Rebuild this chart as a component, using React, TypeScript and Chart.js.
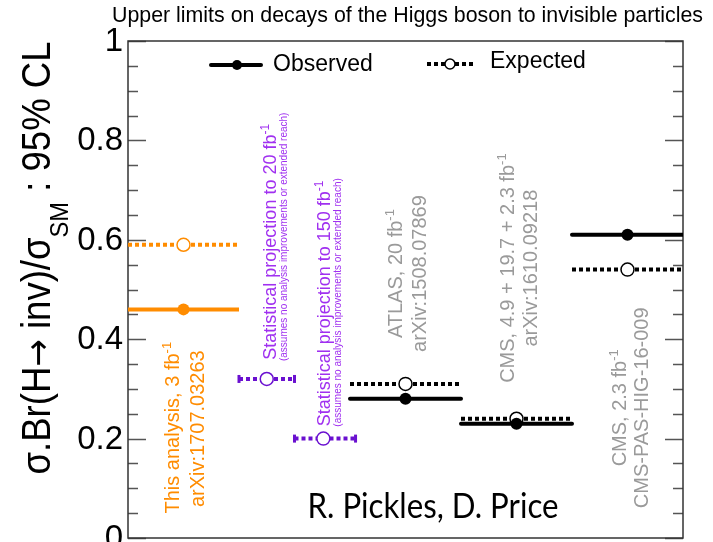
import React, { useEffect, useRef } from "react";
import { Chart, registerables } from "chart.js";

Chart.register(...registerables);

// ---------------- data ----------------
const TITLE = "Upper limits on decays of the Higgs boson to invisible particles";
const CATEGORIES = [
  "This analysis",
  "Projection 20 fb-1",
  "Projection 150 fb-1",
  "ATLAS",
  "CMS Run 1+2",
  "CMS 2.3 fb-1",
];
const X_LOW = [0, 1, 1.5, 2, 3, 4];
const X_HIGH = [1, 1.5, 2.05, 3, 4, 5];
const X_MARK = [0.5, 1.25, 1.76, 2.5, 3.5, 4.5];
const OBSERVED: (number | null)[] = [0.46, null, null, 0.28, 0.23, 0.61];
const EXPECTED = [0.59, 0.32, 0.2, 0.31, 0.24, 0.54];
const Y_TICKS = [0, 0.2, 0.4, 0.6, 0.8, 1];
const Y_TICK_LABELS = ["0", "0.2", "0.4", "0.6", "0.8", "1"];
const LABEL_LINE1 = [
  "This analysis, 3 fb",
  "Statistical projection to 20 fb",
  "Statistical projection to 150 fb",
  "ATLAS, 20 fb",
  "CMS, 4.9 + 19.7 + 2.3 fb",
  "CMS, 2.3 fb",
];
const LABEL_LINE2 = [
  "arXiv:1707.03263",
  "(assumes no analysis improvements or extended reach)",
  "(assumes no analysis improvements or extended reach)",
  "arXiv:1508.07869",
  "arXiv:1610.09218",
  "CMS-PAS-HIG-16-009",
];
const LEGEND = ["Observed", "Expected"];
const Y_TITLE = ["σ.Br(H", "→", " inv)/σ", "SM", " : 95% CL"];
const AUTHORS = "R. Pickles, D. Price";

// ---------------- styles ----------------
const FONT = "'Liberation Sans', Arial, Helvetica, sans-serif";
const ORANGE = "#ff8c00";
const PURPLE_LINE = "#6a10d0";
const PURPLE_TEXT = "#a030f0";
const GREY_TEXT = "#9a9a9a";
const LINE_COLORS = [ORANGE, PURPLE_LINE, PURPLE_LINE, "#000", "#000", "#000"];
const TEXT_COLORS = [ORANGE, PURPLE_TEXT, PURPLE_TEXT, GREY_TEXT, GREY_TEXT, GREY_TEXT];
const HAS_CAPS = [false, true, true, false, false, false];
// annotation layout in data coordinates
const ANNOT = [
  { x1: 0.459, x2: 0.685, y1: 0.222, y2: 0.22, s1: 20, s2: 20 },
  { x1: 1.333, x2: 1.43, y1: 0.596, y2: 0.606, s1: 18, s2: 10 },
  { x1: 1.82, x2: 1.918, y1: 0.472, y2: 0.474, s1: 18, s2: 10 },
  { x1: 2.468, x2: 2.685, y1: 0.532, y2: 0.532, s1: 20, s2: 20 },
  { x1: 3.477, x2: 3.685, y1: 0.543, y2: 0.543, s1: 20, s2: 20 },
  { x1: 4.486, x2: 4.685, y1: 0.262, y2: 0.262, s1: 20, s2: 20 },
];

type Part = { t: string; sup?: boolean; sub?: boolean; family?: string; scale?: number };

function drawRich(
  ctx: CanvasRenderingContext2D,
  parts: Part[],
  x: number,
  y: number,
  size: number,
  color: string,
  opts: { rotate?: boolean; align?: "left" | "center"; fit?: number; family?: string; subDrop?: number } = {}
) {
  const family = opts.family || FONT;
  ctx.save();
  ctx.translate(x, y);
  if (opts.rotate) ctx.rotate(-Math.PI / 2);
  const fonts = parts.map((p) => {
    const fam = p.family || family;
    const s = p.sup || p.sub ? size * 0.65 : size * (p.scale || 1);
    return `${Math.round(s)}px ${fam}`;
  });
  const widths = parts.map((p, i) => {
    ctx.font = fonts[i];
    return ctx.measureText(p.t).width;
  });
  const W = widths.reduce((a, b) => a + b, 0);
  const sx = opts.fit ? opts.fit / W : 1;
  ctx.scale(sx, 1);
  let cx = opts.align === "center" ? -W / 2 : 0;
  ctx.fillStyle = color;
  ctx.textAlign = "left";
  ctx.textBaseline = "alphabetic";
  parts.forEach((p, i) => {
    ctx.font = fonts[i];
    const dy = p.sup ? -size * 0.4 : p.sub ? size * (opts.subDrop ?? 0.3) : 0;
    ctx.fillText(p.t, cx, dy);
    cx += widths[i];
  });
  ctx.restore();
}

const decorPlugin = {
  id: "decor",
  beforeDatasetsDraw(chart: any) {
    const ctx: CanvasRenderingContext2D = chart.ctx;
    const { left, right, top, bottom } = chart.chartArea;
    const ys = chart.scales.y;
    ctx.save();
    ctx.strokeStyle = "#555";
    ctx.lineWidth = 1.3;
    for (let k = 0; k <= 20; k++) {
      const py = Math.round(ys.getPixelForValue(k * 0.05)) + 0.5;
      const len = k % 4 === 0 ? 18 : 10;
      ctx.beginPath();
      ctx.moveTo(left, py);
      ctx.lineTo(left + len, py);
      ctx.moveTo(right, py);
      ctx.lineTo(right - len, py);
      ctx.stroke();
    }
    ctx.strokeStyle = "#333";
    ctx.lineWidth = 1.5;
    ctx.strokeRect(left, top, right - left, bottom - top);
    // y tick labels
    ctx.fillStyle = "#000";
    ctx.font = `33px ${FONT}`;
    ctx.textAlign = "right";
    ctx.textBaseline = "middle";
    Y_TICKS.forEach((v, i) => {
      ctx.fillText(Y_TICK_LABELS[i], left - 5, ys.getPixelForValue(v) + 1);
    });
    ctx.restore();
  },
  afterDatasetsDraw(chart: any) {
    const ctx: CanvasRenderingContext2D = chart.ctx;
    const xs = chart.scales.x;
    const ys = chart.scales.y;
    ctx.save();
    // title
    ctx.fillStyle = "#000";
    ctx.font = `21.5px ${FONT}`;
    ctx.textAlign = "left";
    ctx.textBaseline = "alphabetic";
    ctx.fillText(TITLE, 112, 22, 591);

    // y-axis title
    drawRich(
      ctx,
      [
        { t: Y_TITLE[0] },
        { t: Y_TITLE[1], family: "'DejaVu Sans', sans-serif", scale: 0.9 },
        { t: Y_TITLE[2] },
        { t: Y_TITLE[3], sub: true },
        { t: Y_TITLE[4] },
      ],
      50,
      258,
      40,
      "#000",
      { rotate: true, align: "center", fit: 433, subDrop: 0.45 }
    );

    // annotations
    CATEGORIES.forEach((_, i) => {
      const a = ANNOT[i];
      drawRich(
        ctx,
        [{ t: LABEL_LINE1[i] }, { t: "-1", sup: true }],
        xs.getPixelForValue(a.x1),
        ys.getPixelForValue(a.y1),
        a.s1,
        TEXT_COLORS[i],
        { rotate: true, align: "center" }
      );
      drawRich(
        ctx,
        [{ t: LABEL_LINE2[i] }],
        xs.getPixelForValue(a.x2),
        ys.getPixelForValue(a.y2),
        a.s2,
        TEXT_COLORS[i],
        { rotate: true, align: "center" }
      );
    });

    // legend
    ctx.strokeStyle = "#000";
    ctx.lineWidth = 4;
    ctx.lineCap = "round";
    ctx.beginPath();
    ctx.moveTo(211, 65);
    ctx.lineTo(261, 65);
    ctx.stroke();
    ctx.fillStyle = "#000";
    ctx.beginPath();
    ctx.arc(237, 65, 5, 0, Math.PI * 2);
    ctx.fill();
    ctx.lineCap = "butt";
    ctx.setLineDash([4, 3]);
    ctx.beginPath();
    ctx.moveTo(427, 64);
    ctx.lineTo(474, 64);
    ctx.stroke();
    ctx.setLineDash([]);
    ctx.fillStyle = "#fff";
    ctx.lineWidth = 1.5;
    ctx.beginPath();
    ctx.arc(450, 64, 5, 0, Math.PI * 2);
    ctx.fill();
    ctx.stroke();
    ctx.fillStyle = "#000";
    ctx.font = `23px ${FONT}`;
    ctx.textBaseline = "middle";
    ctx.fillText(LEGEND[0], 273, 65, 101);
    ctx.fillText(LEGEND[1], 490, 62, 98);

    // authors
    ctx.font = `34px Lato, 'Open Sans', sans-serif`;
    ctx.textAlign = "center";
    ctx.textBaseline = "alphabetic";
    ctx.fillText(AUTHORS, 433, 518, 251);
    ctx.restore();
  },
};

export default function App() {
  const ref = useRef<HTMLCanvasElement | null>(null);
  useEffect(() => {
    document.body.style.margin = "0";
    const datasets: any[] = [];
    CATEGORIES.forEach((_, i) => {
      const c = LINE_COLORS[i];
      const exp = EXPECTED[i];
      datasets.push({
        data: [
          { x: X_LOW[i], y: exp },
          { x: X_HIGH[i], y: exp },
        ],
        showLine: true,
        borderColor: c,
        borderWidth: 4,
        borderDash: [4, 3],
        pointRadius: 0,
        order: 4,
      });
      if (HAS_CAPS[i]) {
        datasets.push({
          data: [
            { x: X_LOW[i], y: exp },
            { x: X_HIGH[i], y: exp },
          ],
          showLine: false,
          pointStyle: "line",
          pointRotation: 90,
          pointRadius: 4,
          pointBorderColor: c,
          pointBorderWidth: 3,
          order: 4,
        });
      }
      datasets.push({
        data: [{ x: X_MARK[i], y: exp }],
        showLine: false,
        pointRadius: 6.5,
        pointBackgroundColor: "#fff",
        pointBorderColor: c,
        pointBorderWidth: 1.5,
        order: 2,
      });
      const obs = OBSERVED[i];
      if (obs !== null) {
        datasets.push({
          data: [
            { x: X_LOW[i], y: obs },
            { x: X_HIGH[i], y: obs },
          ],
          showLine: true,
          borderColor: c,
          borderWidth: 4,
          borderCapStyle: i === 0 ? "butt" : "round",
          pointRadius: 0,
          order: 3,
        });
        datasets.push({
          data: [{ x: X_MARK[i], y: obs }],
          showLine: false,
          pointRadius: 6,
          pointBackgroundColor: c,
          pointBorderColor: c,
          pointBorderWidth: 0,
          order: 1,
        });
      }
    });

    const chart = new Chart(ref.current as HTMLCanvasElement, {
      type: "scatter",
      data: { datasets },
      options: {
        animation: false,
        responsive: false,
        devicePixelRatio: 1,
        layout: { padding: { top: 41, right: 30, bottom: 1, left: 128 } },
        plugins: { legend: { display: false }, tooltip: { enabled: false } },
        scales: {
          x: { type: "linear", min: 0, max: 5, display: false },
          y: { type: "linear", min: 0, max: 1, display: false },
        },
      } as any,
      plugins: [decorPlugin],
    });
    return () => chart.destroy();
  }, []);
  return (
    <div style={{ position: "absolute", left: 0, top: 0, width: 713, height: 542, overflow: "hidden" }}>
      <canvas ref={ref} width={713} height={546} style={{ display: "block" }} />
    </div>
  );
}
